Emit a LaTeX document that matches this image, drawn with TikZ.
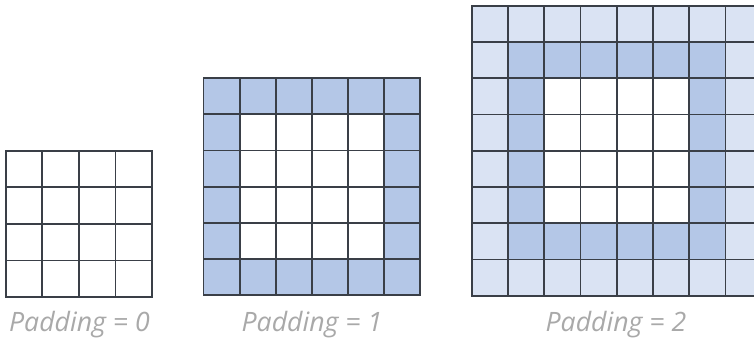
\documentclass[tikz,border=0pt]{standalone}
\usepackage{fontspec}
\setsansfont{Open Sans}
\definecolor{gridline}{HTML}{3A3F47}
\definecolor{padone}{HTML}{B4C7E7}
\definecolor{padtwo}{HTML}{DAE3F3}
\definecolor{labelgray}{HTML}{A9A9A9}
\tikzset{
  gridlines/.style={draw=gridline, line width=1.4pt, line cap=rect},
  padlabel/.style={font=\sffamily\itshape\fontsize{20}{24}\selectfont, text=labelgray, inner sep=0pt, anchor=base}
}
\begin{document}
\begin{tikzpicture}[x=0.75pt,y=-0.75pt]
\useasboundingbox (0,0) rectangle (754,340);
\fill[white] (0,0) rectangle (754,340);
% Grid 1: 4x4, no padding (left 5.7, top 150.7, cell 36.6)
\foreach \i in {0,...,4} {
  \draw[gridlines] ({5.7+36.6*\i},150.7) -- ({5.7+36.6*\i},297.1);
  \draw[gridlines] (5.7,{150.7+36.6*\i}) -- (152.1,{150.7+36.6*\i});
}
% Grid 2: 6x6, padding 1 (left 203.5, top 78.3, cell 36.1)
\fill[padone] (203.5,78.3) rectangle ({203.5+6*36.1},{78.3+6*36.1});
\fill[white] ({203.5+36.1},{78.3+36.1}) rectangle ({203.5+5*36.1},{78.3+5*36.1});
\foreach \i in {0,...,6} {
  \draw[gridlines] ({203.5+36.1*\i},78.3) -- ({203.5+36.1*\i},{78.3+6*36.1});
  \draw[gridlines] (203.5,{78.3+36.1*\i}) -- ({203.5+6*36.1},{78.3+36.1*\i});
}
% Grid 3: 8x8, padding 2 (left 471.7, top 5.7, cell 36.25), cut at the right edge
\begin{scope}
  \clip (0,0) rectangle (754,340);
  \fill[padtwo] (471.7,5.7) rectangle ({471.7+8*36.25},{5.7+8*36.25});
  \fill[padone] ({471.7+36.25},{5.7+36.25}) rectangle ({471.7+7*36.25},{5.7+7*36.25});
  \fill[white] ({471.7+2*36.25},{5.7+2*36.25}) rectangle ({471.7+6*36.25},{5.7+6*36.25});
  \foreach \i in {0,...,8} {
    \draw[gridlines] ({471.7+36.25*\i},5.7) -- ({471.7+36.25*\i},{5.7+8*36.25});
    \draw[gridlines] (471.7,{5.7+36.25*\i}) -- ({471.7+8*36.25},{5.7+36.25*\i});
  }
\end{scope}
\node[padlabel] (lab0) at (79.5,331.5) {Padding = 0};
\node[padlabel] (lab1) at (312,331.5) {Padding = 1};
\node[padlabel] (lab2) at (616,331.5) {Padding = 2};
\end{tikzpicture}
\end{document}
